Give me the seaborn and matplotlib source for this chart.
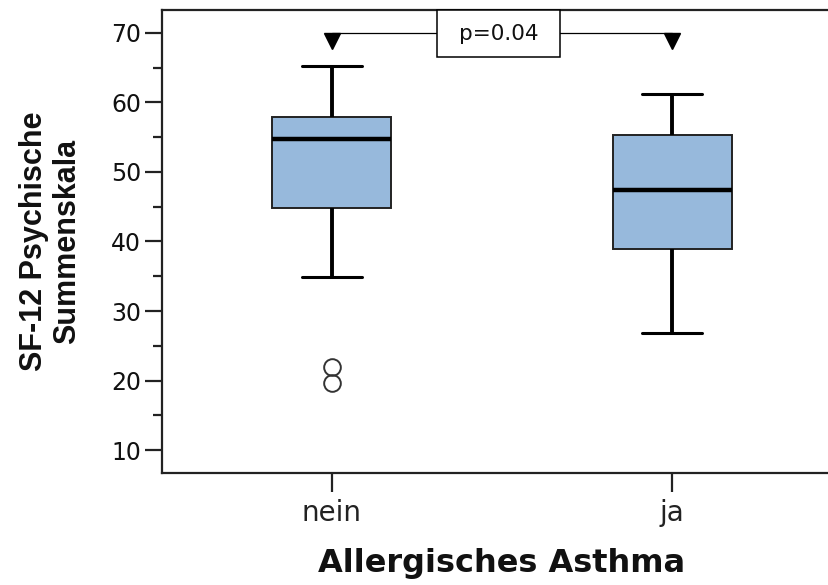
import matplotlib
matplotlib.use("Agg")
import matplotlib.pyplot as plt
from matplotlib import font_manager
from matplotlib.patches import Rectangle
from matplotlib.ticker import MultipleLocator
import seaborn as sns
import pandas as pd

# ---- data ----
categories = ["nein", "ja"]
# observations per group, chosen so the box statistics match the figure
values_nein = [19.6, 22.0, 34.9, 44.8, 44.8, 44.8, 54.7, 57.9, 57.9, 57.9, 57.9, 57.9, 65.2]
values_ja = [26.8, 38.9, 38.9, 38.9, 47.4, 55.3, 55.3, 55.3, 61.2]
y_ticks = [10, 20, 30, 40, 50, 60, 70]
p_text = "p=0.04"
bracket_level = 70
xlabel = "Allergisches Asthma"
ylabel = "SF-12 Psychische\nSummenskala"

df = pd.DataFrame({
    "group": [categories[0]] * len(values_nein) + [categories[1]] * len(values_ja),
    "value": values_nein + values_ja,
})

sns.set_style("ticks")
plt.rcParams["font.family"] = ["DejaVu Sans"]

installed = {f.name for f in font_manager.fontManager.ttflist}
if "Liberation Sans Narrow" in installed:
    ylab_family, ylab_size = "Liberation Sans Narrow", 28.5
else:
    ylab_family, ylab_size = "Liberation Sans", 22

fig = plt.figure(figsize=(8.29, 5.85), dpi=100)
ax = fig.add_axes([0.1954, 0.1915, 0.8203, 0.7914])

sns.boxplot(
    data=df, x="group", y="value", order=categories, ax=ax,
    color="#97B9DC", saturation=1, width=0.35, linecolor="black",
    linewidth=1.4, fliersize=12,
    whis=1.5,
    boxprops=dict(edgecolor="#222222", linewidth=1.4),
    medianprops=dict(color="black", linewidth=3.2),
    whiskerprops=dict(color="black", linewidth=2.8),
    capprops=dict(color="black", linewidth=2.2),
    flierprops=dict(marker="o", markerfacecolor="none", markeredgecolor="#333333",
                    markeredgewidth=1.4, markersize=12),
)

ax.set_xlim(-0.5, 1.5)
ax.set_ylim(6.7, 73.3)
ax.set_yticks(y_ticks)
ax.yaxis.set_minor_locator(MultipleLocator(5))
ax.tick_params(axis="y", which="major", length=12, width=1.6, labelsize=17, color="#222222",
               labelcolor="#111111", pad=3)
ax.tick_params(axis="y", which="minor", length=6.5, width=1.6, color="#222222")
ax.tick_params(axis="x", which="major", length=14, width=1.6, labelsize=20, color="#222222",
               labelcolor="#222222", pad=5)
ax.tick_params(axis="x", which="minor", bottom=False)

for s in ["left", "bottom", "top"]:
    ax.spines[s].set_visible(True)
    ax.spines[s].set_linewidth(1.6)
    ax.spines[s].set_color("#222222")
ax.spines["right"].set_visible(False)

ax.set_xlabel(xlabel, fontsize=23, fontweight="bold", labelpad=15, color="#111111")
ax.set_ylabel(ylabel, fontsize=ylab_size, fontweight="bold", family=ylab_family,
              labelpad=21, linespacing=1.12, color="#111111")

# significance bracket
ax.plot([0, 1], [bracket_level, bracket_level], color="black", linewidth=0.9, zorder=5, clip_on=False)
ax.plot([0, 1], [bracket_level - 1.1, bracket_level - 1.1], linestyle="none", marker="v",
        markersize=11, color="black", zorder=6, clip_on=False)
ax.add_patch(Rectangle((0.308, 66.5), 0.672 - 0.308, 73.3 - 66.5, facecolor="white",
                       edgecolor="black", linewidth=1.1, zorder=7, clip_on=False))
ax.text(0.49, 69.9, p_text, ha="center", va="center", fontsize=15.5, color="#111111", zorder=8)

fig.savefig("out.png", dpi=100)
